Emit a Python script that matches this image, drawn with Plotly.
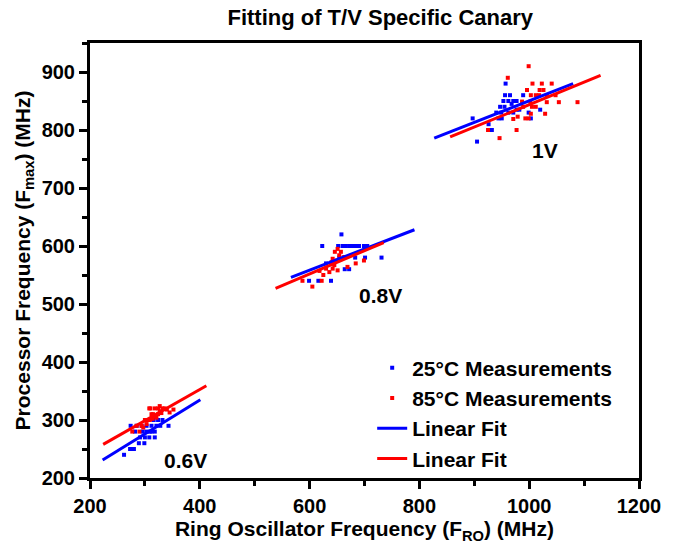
import plotly.graph_objects as go

# 25°C measurements (ring oscillator MHz, processor Fmax MHz)
x25_06 = [262, 273, 280, 289, 299, 274, 285, 294, 303, 312, 321, 328, 343, 282, 296, 303, 312, 318,
          291, 300, 308, 318, 309, 324, 332, 316]
y25_06 = [240, 250, 250, 260, 260, 290, 290, 290, 290, 290, 290, 290, 290, 280, 280, 280, 280, 280,
          270, 270, 270, 270, 280, 300, 300, 300]
x25_08 = [658, 623, 652, 660, 666, 672, 678, 684, 690, 699, 705, 701, 731, 683, 664, 672, 599, 616,
          639, 642, 654, 630]
y25_08 = [620, 600, 600, 600, 600, 600, 600, 600, 600, 600, 600, 580, 580, 580, 560, 560, 540, 540,
          540, 570, 580, 570]
x25_10 = [905, 897, 926, 932, 944, 950, 962, 971, 947, 955, 940, 956, 965, 953, 962, 971, 977, 989,
          957, 982, 999, 1003, 1020, 968, 977, 949]
y25_10 = [780, 820, 810, 800, 820, 820, 830, 830, 840, 840, 830, 860, 860, 850, 850, 850, 850, 860,
          880, 835, 830, 820, 835, 845, 835, 830]

# 85°C measurements
x85_06 = [277, 290, 285, 294, 300, 304, 309, 312, 308, 315, 318, 324, 327, 332, 336, 340, 352, 318,
          324, 330, 314, 321, 310, 327, 345, 303, 297]
y85_06 = [280, 280, 290, 290, 300, 300, 300, 310, 320, 310, 320, 320, 315, 320, 320, 318, 318, 307,
          310, 312, 302, 304, 320, 324, 313, 293, 287]
x85_08 = [587, 605, 622, 625, 636, 642, 645, 640, 649, 654, 646, 657, 651, 663, 669, 684, 699, 651,
          630, 618, 642]
y85_08 = [540, 530, 540, 550, 555, 561, 567, 572, 575, 584, 590, 590, 595, 581, 564, 570, 575, 558,
          561, 557, 578]
x85_10 = [999, 961, 1006, 1023, 1041, 996, 1019, 1026, 1003, 1012, 1018, 1032, 1048, 987, 1002, 1032,
          1054, 1088, 1005, 1012, 1003, 1029, 971, 979, 993, 999, 925, 977, 946, 989]
y85_10 = [910, 890, 880, 880, 880, 869, 869, 869, 860, 860, 860, 860, 860, 849, 849, 848, 848, 848,
          840, 840, 828, 828, 819, 823, 820, 820, 800, 800, 786, 840]

# Linear fit segments (endpoints)
fit25_x = [[223, 401], [566, 791], [827, 1080]]
fit25_y = [[231, 335], [546, 628], [786, 880]]
fit85_x = [[224, 412], [538, 735], [856, 1130]]
fit85_y = [[258, 359], [527, 606], [788, 894]]

voltage_labels = ["0.6V", "0.8V", "1V"]
label_x = [374, 730, 1028]
label_y = [231, 515, 765]

FONT = "Liberation Sans, Arial, sans-serif"
BLUE = "#0000ff"
RED = "#ff0000"

fig = go.Figure()

fig.add_trace(go.Scatter(
    x=x25_06 + x25_08 + x25_10, y=y25_06 + y25_08 + y25_10,
    mode="markers", name="25°C Measurements",
    marker=dict(symbol="square", size=4, color=BLUE, line=dict(width=0)),
))
fig.add_trace(go.Scatter(
    x=x85_06 + x85_08 + x85_10, y=y85_06 + y85_08 + y85_10,
    mode="markers", name="85°C Measurements",
    marker=dict(symbol="square", size=4, color=RED, line=dict(width=0)),
))

def segments(xs, ys):
    sx, sy = [], []
    for a, b in zip(xs, ys):
        sx += a + [None]
        sy += b + [None]
    return sx, sy

sx, sy = segments(fit25_x, fit25_y)
fig.add_trace(go.Scatter(x=sx, y=sy, mode="lines", name="Linear Fit",
                         line=dict(color=BLUE, width=3)))
sx, sy = segments(fit85_x, fit85_y)
fig.add_trace(go.Scatter(x=sx, y=sy, mode="lines", name="Linear Fit",
                         line=dict(color=RED, width=3)))

for t, lx, ly in zip(voltage_labels, label_x, label_y):
    fig.add_annotation(x=lx, y=ly, text="<b>%s</b>" % t, showarrow=False,
                       font=dict(family=FONT, size=21, color="black"))

axis_common = dict(
    showgrid=False, zeroline=False,
    showline=True, linewidth=3, linecolor="black", mirror=True,
    ticks="outside", ticklen=8, tickwidth=3, tickcolor="black",
    tickfont=dict(family=FONT, size=20, color="black", weight="bold"),
    minor=dict(ticks="outside", ticklen=5, tickwidth=3, tickcolor="black"),
)

fig.update_xaxes(range=[200, 1200], dtick=200, tick0=200,
                 title=dict(text="<b>Ring Oscillator Frequency (F<sub>RO</sub>) (MHz)</b>",
                            font=dict(family=FONT, size=21, color="black"), standoff=6),
                 **axis_common)
fig.update_xaxes(minor=dict(dtick=100))
fig.update_yaxes(range=[200, 950], dtick=100, tick0=200,
                 title=dict(text="<b>Processor Frequency (F<sub>max</sub>) (MHz)</b>",
                            font=dict(family=FONT, size=21, color="black"), standoff=6),
                 **axis_common)
fig.update_yaxes(minor=dict(dtick=50))

fig.update_layout(
    width=673, height=550,
    margin=dict(l=90, r=32, t=43, b=69),
    paper_bgcolor="white", plot_bgcolor="white",
    title=dict(text="<b>Fitting of T/V Specific Canary</b>", x=0.565, xanchor="center",
               y=0.968, yanchor="middle",
               font=dict(family=FONT, size=22, color="black")),
    legend=dict(x=0.514, y=0.3, xanchor="left", yanchor="top",
                bgcolor="rgba(0,0,0,0)", borderwidth=0,
                font=dict(family=FONT, size=21, color="black", weight="bold")),
    showlegend=True,
)

fig.write_html("out.html")
